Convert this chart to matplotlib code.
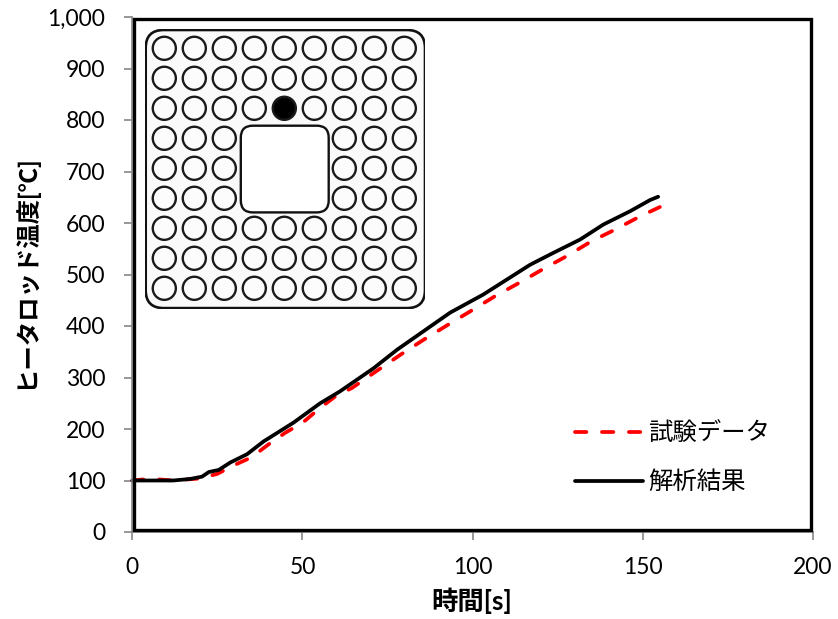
import matplotlib
matplotlib.use("Agg")
import matplotlib.pyplot as plt
from matplotlib.patches import Circle, FancyBboxPatch, Rectangle

plt.rcParams['font.family'] = ['Lato', 'Noto Sans CJK JP', 'DejaVu Sans']
plt.rcParams['lines.scale_dashes'] = False

# black line: 解析結果
calc_t = [0, 12, 17, 20.5, 22.5, 25.4, 28.8, 33.7, 38.6, 47.4, 55.2, 61, 70.9, 77.8, 85.6,
          93.4, 103.1, 110, 116.9, 123.7, 131.6, 138.4, 146.3, 152.1, 154.5]
calc_temp = [100, 100, 103, 107.5, 116.5, 120.5, 135, 151, 176, 212.5, 250, 273, 318, 354, 390,
             426, 461, 490, 519, 542, 568, 597, 623, 644.5, 651]

# red dashed line: 試験データ
test_t = [0, 3, 5, 8, 12, 20, 25, 30, 35, 40, 45, 50, 55, 60, 64.5, 72.3, 79.2, 86, 92.9,
          99.8, 106.6, 114, 120.8, 128, 135, 141.8, 149.2, 155]
test_temp = [100, 102, 100, 102, 100, 104, 113, 130, 145, 170, 193, 212, 240, 265, 279.5, 315, 346, 375, 403,
             430.5, 458, 485, 511, 537, 565, 587, 613, 631]

x_ticks = [0, 50, 100, 150, 200]
y_ticks = list(range(0, 1001, 100))
y_tick_labels = ["0", "100", "200", "300", "400", "500", "600", "700", "800", "900", "1,000"]

W, H = 838, 619
fig = plt.figure(figsize=(W / 100, H / 100), dpi=100)
L, R, T, B = 132.3, 813, 17, 532
ax = fig.add_axes([L / W, 1 - B / H, (R - L) / W, (B - T) / H])

ax.plot(test_t, test_temp, color="#ff0000", lw=2.7, dashes=(8.2, 11.2), dash_capstyle="round", label="試験データ", clip_on=False)
ax.plot(calc_t, calc_temp, color="black", lw=2.7, solid_capstyle="round", label="解析結果", clip_on=False)

ax.set_xlim(0, 200)
ax.set_ylim(0, 1000)
ax.set_xticks(x_ticks)
ax.set_yticks(y_ticks)
ax.set_yticklabels(y_tick_labels)
ax.tick_params(length=5.5, width=1.2, color="#868686", labelsize=16.5, labelcolor="black")
ax.tick_params(axis="x", pad=12.5)
ax.tick_params(axis="y", pad=14)

for s in ["top", "right"]:
    ax.spines[s].set_visible(False)
for s in ["left", "bottom"]:
    ax.spines[s].set_color("#868686")
    ax.spines[s].set_linewidth(1.2)

# black plot frame sits just inside the axis lines
dx, dy = 1.7 / (R - L), 2.2 / (B - T)
ax.add_patch(Rectangle((dx, dy), 1 - 2 * dx, 1 - 2 * dy, transform=ax.transAxes, fill=False,
                       ec="black", lw=2.4, zorder=5, clip_on=False))

fig.text(472 / W, 1 - 601 / H, "時間[s]", ha="center", va="center", fontsize=19, fontweight="bold")
fig.text(25 / W, 1 - 272 / H, "ヒータロッド温度[℃]", ha="center", va="center", rotation=90, fontsize=17.6, fontweight="bold")

leg = ax.legend(loc="upper left", bbox_to_anchor=(574.5 / W, 1 - 422 / H), bbox_transform=fig.transFigure,
                frameon=False, fontsize=17.6, handlelength=2.82, handletextpad=0.2, labelspacing=1.04,
                borderpad=0, borderaxespad=0)

# fuel bundle schematic, in rod pitch units
rods = 9
hole = [3, 4, 5]
heated_rod = (2, 4)
pitch = 30
x0, y0 = 164.3, 48.3
inset = fig.add_axes([(x0 - 19) / W, 1 - (y0 + 8 * pitch + 21) / H, (8 * pitch + 40) / W, (8 * pitch + 40) / H])
inset.set_xlim(-19 / pitch, 8 + 21 / pitch)
inset.set_ylim(8 + 21 / pitch, -19 / pitch)
inset.axis("off")
inset.patch.set_visible(False)
inset.add_patch(FancyBboxPatch((-0.62, -0.61), 9.31, 9.27, boxstyle="round,pad=0,rounding_size=0.6",
                               fc="#fafafa", ec="#111111", lw=1.9))
for row in range(rods):
    for col in range(rods):
        if row in hole and col in hole:
            continue
        hot = (row, col) == heated_rod
        inset.add_patch(Circle((col, row), 0.385, fc="black" if hot else "#fcfcfc", ec="#1a1a1a", lw=1.7))
inset.add_patch(FancyBboxPatch((2.55, 2.58), 2.93, 2.89, boxstyle="round,pad=0,rounding_size=0.4",
                               fc="white", ec="#111111", lw=1.7))

fig.savefig("out.png", dpi=100)
